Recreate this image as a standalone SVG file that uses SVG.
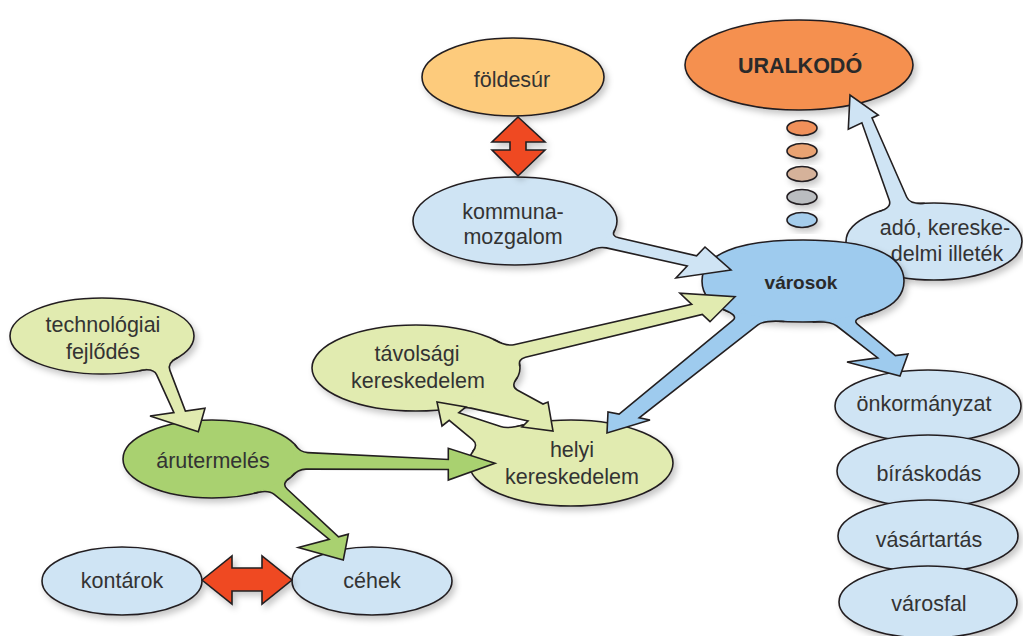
<svg xmlns="http://www.w3.org/2000/svg" width="1023" height="636" viewBox="0 0 1023 636">
<defs>
<filter id="sh" x="-20%" y="-20%" width="150%" height="160%">
<feDropShadow dx="3" dy="4" stdDeviation="3" flood-color="#000" flood-opacity="0.22"/>
</filter>
<style>
.n{stroke:#231f20;stroke-width:1.6}
.lb{fill:#cfe4f4}
.bl{fill:#9ecbee}
.lg{fill:#e1ebb0}
.dg{fill:#a9d170}
.t{font-family:"Liberation Sans",Arial,sans-serif;font-size:21.5px;fill:#333;text-anchor:middle}
.b{font-weight:bold;fill:#2a2a2a}
.cs{fill:none;stroke:#231f20;stroke-width:1.6;stroke-linejoin:miter}
.red{fill:#ef4a23;stroke:#231f20;stroke-width:1.6}
</style>
</defs>
<rect width="1023" height="636" fill="#fff"/>

<g id="foldesur">
<ellipse class="n" cx="513" cy="77" rx="91" ry="39" fill="#fdcb7b" filter="url(#sh)"/>
<text class="t" x="512" y="87">földesúr</text>
</g>
<g id="uralkodo">
<ellipse class="n" cx="799" cy="65" rx="114" ry="45" fill="#f5904f" filter="url(#sh)"/>
<text class="t b" x="800" y="73">URALKODÓ</text>
</g>
<g id="lanc">
<ellipse class="n" cx="802" cy="128" rx="15" ry="7.5" fill="#f0905a" filter="url(#sh)"/>
<ellipse class="n" cx="802" cy="151" rx="15" ry="7.5" fill="#e9a272" filter="url(#sh)"/>
<ellipse class="n" cx="802" cy="174" rx="15" ry="7.5" fill="#d5b29a" filter="url(#sh)"/>
<ellipse class="n" cx="802" cy="197" rx="15" ry="7.5" fill="#babdc0" filter="url(#sh)"/>
<ellipse class="n" cx="802" cy="220" rx="15" ry="7.5" fill="#a5cdec" filter="url(#sh)"/>
</g>
<g id="kommuna">
<ellipse class="n lb" cx="515" cy="221" rx="102" ry="44" filter="url(#sh)"/>
<text class="t" x="513" y="219">kommuna-</text>
<text class="t" x="513" y="244">mozgalom</text>
</g>
<g id="ado">
<ellipse class="n lb" cx="934" cy="241.5" rx="88" ry="38.5" filter="url(#sh)"/>
<text class="t" x="945" y="235">adó, kereske-</text>
<text class="t" x="947" y="261">delmi illeték</text>
</g>
<g id="technologiai">
<ellipse class="n lg" cx="102" cy="336" rx="92" ry="38" filter="url(#sh)"/>
<text class="t" x="103" y="332">technológiai</text>
<text class="t" x="103" y="359">fejlődés</text>
</g>
<g id="tavolsagi">
<ellipse class="n lg" cx="416" cy="368" rx="104" ry="43" filter="url(#sh)"/>
<text class="t" x="417" y="361">távolsági</text>
<text class="t" x="418" y="388">kereskedelem</text>
</g>
<g id="helyi">
<ellipse class="n lg" cx="571" cy="463" rx="102" ry="43" filter="url(#sh)"/>
<text class="t" x="572" y="457">helyi</text>
<text class="t" x="572" y="484">kereskedelem</text>
</g>
<g id="arutermeles">
<ellipse class="n dg" cx="212" cy="459" rx="89" ry="39" filter="url(#sh)"/>
<text class="t" x="213" y="468">árutermelés</text>
</g>
<g id="kontarok">
<ellipse class="n lb" cx="122" cy="581" rx="80" ry="34" filter="url(#sh)"/>
<text class="t" x="122" y="588">kontárok</text>
</g>
<g id="cehek">
<ellipse class="n lb" cx="372" cy="581" rx="80" ry="34" filter="url(#sh)"/>
<text class="t" x="372" y="588">céhek</text>
</g>
<g id="onkormanyzat">
<ellipse class="n lb" cx="928" cy="406" rx="93" ry="36" filter="url(#sh)"/>
<text class="t" x="924" y="411">önkormányzat</text>
</g>
<g id="biraskodas">
<ellipse class="n lb" cx="928" cy="471" rx="91" ry="36" filter="url(#sh)"/>
<text class="t" x="929" y="481">bíráskodás</text>
</g>
<g id="vasartartas">
<ellipse class="n lb" cx="928" cy="536" rx="90" ry="36" filter="url(#sh)"/>
<text class="t" x="929" y="547">vásártartás</text>
</g>
<g id="varosfal">
<ellipse class="n lb" cx="928" cy="602" rx="89" ry="36" filter="url(#sh)"/>
<text class="t" x="929" y="611">városfal</text>
</g>
<g id="varosok">
<path class="n bl" filter="url(#sh)" d="M702 281C702 254.3 737.3 240 803 240C868.7 240 904 254.3 904 281C904 307.7 868.7 322 803 322C737.3 322 702 307.7 702 281Z"/>
<text class="t b" x="801" y="289" style="font-size:19px">városok</text>
</g>

<g id="connectors">
<path class="red" filter="url(#sh)" d="M518 117L545 142L526 142L526 150L545 150L518 176L492 150L510 150L510 142L492 142Z"/>
<path class="red" filter="url(#sh)" d="M202 580L232 556L232 568L262 568L262 556L292 580L262 604L262 591L232 591L232 604Z"/>

<g id="kommuna-varosok">
<path class="lb" d="M614.8 230.2Q610.9 236 618.7 237.8L696.6 255.9L705 247L731 270L676 278L687.2 266L606.3 247.9Q598.5 246.2 589.6 251Z"/>
<path class="cs" d="M614.8 230.2Q610.9 236 618.7 237.8L696.6 255.9L705 247L731 270L676 278L687.2 266L606.3 247.9Q598.5 246.2 589.6 251"/>
</g>
<g id="ado-uralkodo">
<path class="lb" d="M879.2 211.4Q892 207.7 889.3 200.2L861.9 122.8L848.3 129.3L850 95L878.3 115L872 118L906.8 197.2Q910 204.5 924.8 203.2Z"/>
<path class="cs" d="M879.2 211.4Q892 207.7 889.3 200.2L861.9 122.8L848.3 129.3L850 95L878.3 115L872 118L906.8 197.2Q910 204.5 924.8 203.2"/>
</g>
<g id="technologiai-arutermeles">
<path class="lg" d="M139.4 370.7Q153.4 367.5 156.7 374.8L173.9 412.6L150 416L198.3 431.7L205 408.3L185.4 411L169.9 370.4Q167.1 362.9 177.4 357.8Z"/>
<path class="cs" d="M139.4 370.7Q153.4 367.5 156.7 374.8L173.9 412.6L150 416L198.3 431.7L205 408.3L185.4 411L169.9 370.4Q167.1 362.9 177.4 357.8"/>
</g>
<g id="arutermeles-helyi">
<path class="dg" d="M294.5 444.4Q299.7 452.2 307.7 452.6L448.3 459.5L448.3 448.3L495 463.3L448.3 480L448.3 469.5L306 469.1Q298 469.1 291.3 476.7Z"/>
<path class="cs" d="M294.5 444.4Q299.7 452.2 307.7 452.6L448.3 459.5L448.3 448.3L495 463.3L448.3 480L448.3 469.5L306 469.1Q298 469.1 291.3 476.7"/>
</g>
<g id="arutermeles-cehek">
<path class="dg" d="M253.8 493.4Q268 489.3 274.2 494.4L329.2 539.3L298.3 547.5L343.3 560L348.3 534.2L338.5 536.8L287.1 489Q281.2 483.5 289.9 477.9Z"/>
<path class="cs" d="M253.8 493.4Q268 489.3 274.2 494.4L329.2 539.3L298.3 547.5L343.3 560L348.3 534.2L338.5 536.8L287.1 489Q281.2 483.5 289.9 477.9"/>
</g>
<g id="tavolsagi-varosok">
<path class="lg" d="M493.3 339.2Q506.1 346.5 513.9 344.7L691.7 304.4L680 293.3L735 296.7L710 321.7L702.3 314.4L525.5 357.2Q517.7 359.1 519.9 366.5Z"/>
<path class="cs" d="M493.3 339.2Q506.1 346.5 513.9 344.7L691.7 304.4L680 293.3L735 296.7L710 321.7L702.3 314.4L525.5 357.2Q517.7 359.1 519.9 366.5"/>
</g>
<g id="tavolsagi-helyi">
<path class="lg" d="M442.9 409.5Q463.2 406.3 471 408.1L528 421L522 427L553 431L548 402L543 404L517.2 390Q510.2 386.2 517.7 376.9Z"/>
<path class="cs" d="M442.9 409.5Q463.2 406.3 471 408.1L528 421L522 427L553 431L548 402L543 404L517.2 390Q510.2 386.2 517.7 376.9"/>
</g>
<g id="helyi-tavolsagi">
<path class="lg" d="M472.5 451.9Q478.6 444.8 472.5 439.7L449.2 420.3L442 426L437 402L466 407L458.8 412.7L500.6 426.6Q508.2 429.1 523.2 425Z"/>
<path class="cs" d="M472.5 451.9Q478.6 444.8 472.5 439.7L449.2 420.3L442 426L437 402L466 407L458.8 412.7L500.6 426.6Q508.2 429.1 523.2 425"/>
</g>
<g id="varosok-helyi">
<path class="bl" d="M723 309.4Q739 315.3 732.8 320.4L619.1 414.1L608 412L607 433L650 420L639.2 417.9L757.9 324.9Q764.2 320 784.3 321.5Z"/>
<path class="cs" d="M723 309.4Q739 315.3 732.8 320.4L619.1 414.1L608 412L607 433L650 420L639.2 417.9L757.9 324.9Q764.2 320 784.3 321.5"/>
</g>
<g id="varosok-onkormanyzat">
<path class="bl" d="M812.7 321.9Q830.5 321.1 836.8 326L877.8 357.9L847 362L900 376L908 354L895.4 355.6L857.1 323.8Q850.9 318.7 872.8 313.5Z"/>
<path class="cs" d="M812.7 321.9Q830.5 321.1 836.8 326L877.8 357.9L847 362L900 376L908 354L895.4 355.6L857.1 323.8Q850.9 318.7 872.8 313.5"/>
</g>
</g>
</svg>
